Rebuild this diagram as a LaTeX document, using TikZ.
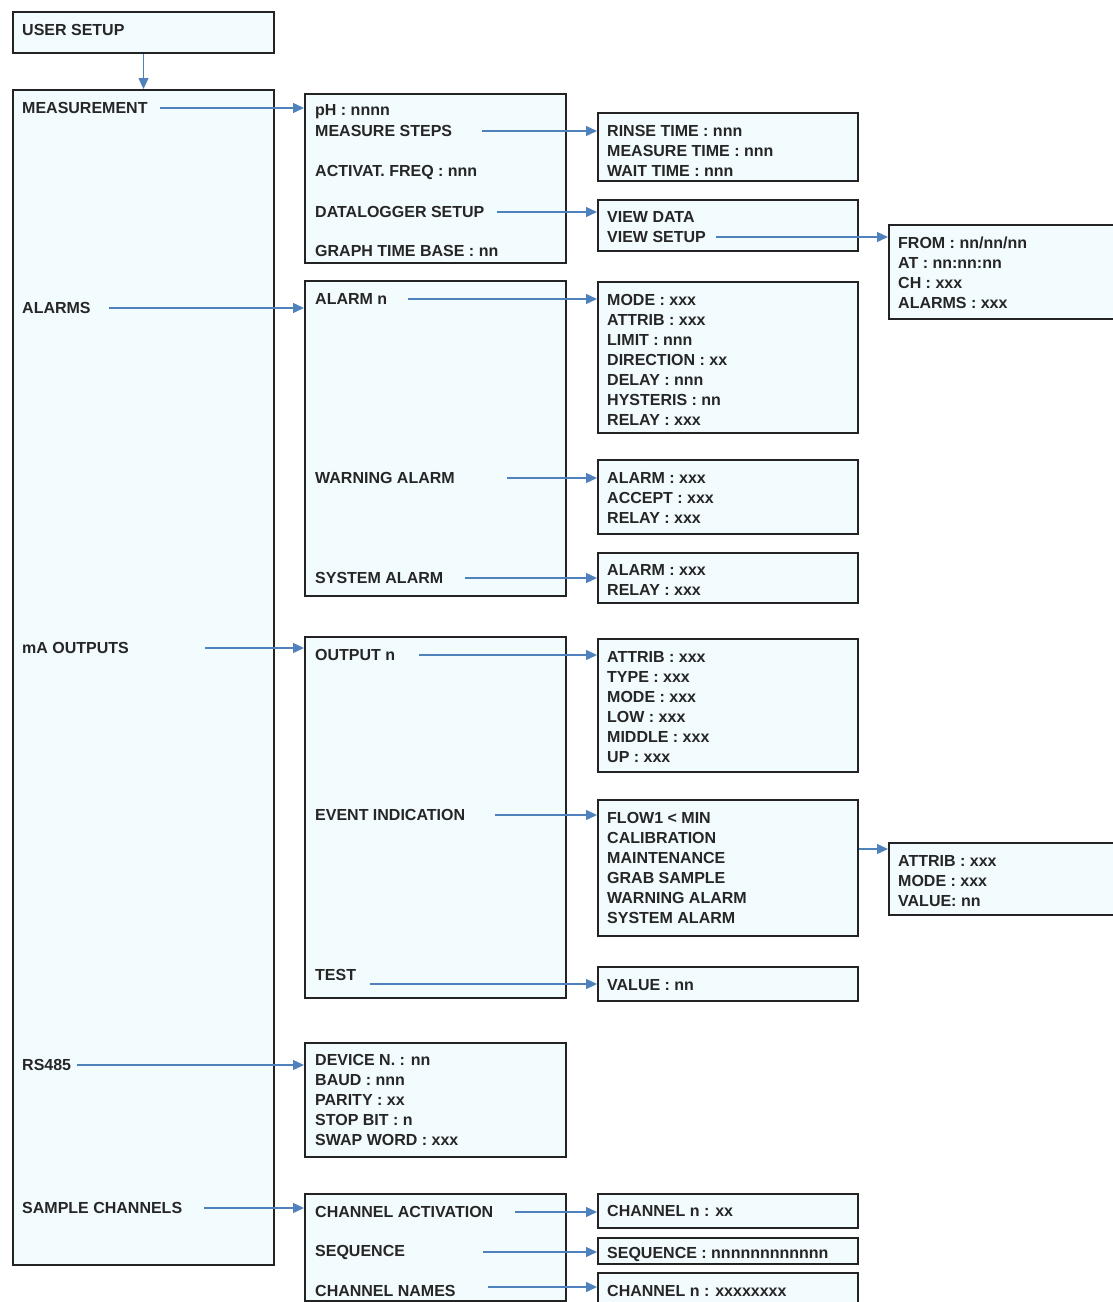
\documentclass[tikz,border=0pt]{standalone}
\usepackage{fontspec}
\setmainfont{Liberation Sans}
\usetikzlibrary{arrows.meta}
\definecolor{boxfill}{RGB}{242,251,254}
\definecolor{boxline}{RGB}{35,35,35}
\definecolor{linkblue}{RGB}{79,129,189}
\tikzset{
	panel/.style={draw=boxline, fill=boxfill, line width=2pt, anchor=north west, inner sep=0pt},
	item/.style={anchor=west, inner sep=0pt, text=black!85, font=\fontsize{16}{20}\selectfont\bfseries},
	items/.style={anchor=north west, inner sep=0pt, align=left, text=black!85, font=\fontsize{16}{20}\selectfont\bfseries},
	link/.style={draw=linkblue, line width=1.4pt, -{Triangle[length=11pt,width=10pt]}}
}

\begin{document}
\begin{tikzpicture}[x=1pt,y=-1pt]
			%%%%% START %%%%%
			\useasboundingbox (0,0) rectangle (1113,1302);
			
			% boxes
			\node[panel, minimum width=261pt, minimum height=41pt] (user) at (12,11) {};
			\node[panel, minimum width=261pt, minimum height=1175pt] (menu) at (12,89) {};
			
			\node[panel, minimum width=261pt, minimum height=169pt] (meas) at (304,93) {};
			\node[panel, minimum width=261pt, minimum height=315pt] (alarm) at (304,280) {};
			\node[panel, minimum width=261pt, minimum height=361pt] (output) at (304,636) {};
			\node[panel, minimum width=261pt, minimum height=114pt] (serial) at (304,1042) {};
			\node[panel, minimum width=261pt, minimum height=107pt] (chan) at (304,1193) {};
			
			\node[panel, minimum width=260pt, minimum height=68pt] (steps) at (597,112) {};
			\node[panel, minimum width=260pt, minimum height=51pt] (logger) at (597,199) {};
			\node[panel, minimum width=260pt, minimum height=151pt] (alarmn) at (597,281) {};
			\node[panel, minimum width=260pt, minimum height=74pt] (warning) at (597,459) {};
			\node[panel, minimum width=260pt, minimum height=50pt] (system) at (597,552) {};
			\node[panel, minimum width=260pt, minimum height=133pt] (outputn) at (597,638) {};
			\node[panel, minimum width=260pt, minimum height=136pt] (event) at (597,799) {};
			\node[panel, minimum width=260pt, minimum height=34pt] (test) at (597,966) {};
			\node[panel, minimum width=260pt, minimum height=34pt] (chact) at (597,1193) {};
			\node[panel, minimum width=260pt, minimum height=26pt] (seq) at (597,1237) {};
			\node[panel, minimum width=260pt, minimum height=32pt] (chname) at (597,1272) {};
			
			\node[panel, minimum width=230pt, minimum height=94pt] (viewset) at (888,224) {};
			\node[panel, minimum width=230pt, minimum height=72pt] (eventset) at (888,842) {};
			
			% first column
			\node[item] (l-user) at (22,30) {USER SETUP};
			\node[item] (l-meas) at (22,108) {MEASUREMENT};
			\node[item] (l-alarms) at (22,308) {ALARMS};
			\node[item] (l-maout) at (22,648) {mA OUTPUTS};
			\node[item] (l-rs) at (22,1065) {RS485};
			\node[item] (l-samp) at (22,1208) {SAMPLE CHANNELS};
			
			% second column
			\node[item] (l-ph) at (315,112) {pH : nnnn};
			\node[item] (l-steps) at (315,131) {MEASURE STEPS};
			\node[item] (l-freq) at (315,172) {ACTIVAT. FREQ : nnn};
			\node[item] (l-logger) at (315,212) {DATALOGGER SETUP};
			\node[item] (l-base) at (315,251) {GRAPH TIME BASE : nn};
			\node[item] (l-alarmn) at (315,299) {ALARM n};
			\node[item] (l-warning) at (315,478) {WARNING ALARM};
			\node[item] (l-system) at (315,578) {SYSTEM ALARM};
			\node[item] (l-outputn) at (315,655) {OUTPUT n};
			\node[item] (l-event) at (315,815) {EVENT INDICATION};
			\node[item] (l-test) at (315,975) {TEST};
			\node[items] (l-serial) at (315,1054) {DEVICE N. : nn\\BAUD : nnn\\PARITY : xx\\STOP BIT : n\\SWAP WORD : xxx};
			\node[item] (l-chact) at (315,1212) {CHANNEL ACTIVATION};
			\node[item] (l-seq) at (315,1252) {SEQUENCE};
			\node[item] (l-chname) at (315,1291) {CHANNEL NAMES};
			
			% third column
			\node[items] (l-times) at (607,125) {RINSE TIME : nnn\\MEASURE TIME : nnn\\WAIT TIME : nnn};
			\node[item] (l-viewdata) at (607,217) {VIEW DATA};
			\node[item] (l-viewset) at (607,237) {VIEW SETUP};
			\node[items] (l-alarmset) at (607,294) {MODE : xxx\\ATTRIB : xxx\\LIMIT : nnn\\DIRECTION : xx\\DELAY : nnn\\HYSTERIS : nn\\RELAY : xxx};
			\node[items] (l-warnset) at (607,472) {ALARM : xxx\\ACCEPT : xxx\\RELAY : xxx};
			\node[items] (l-sysset) at (607,564) {ALARM : xxx\\RELAY : xxx};
			\node[items] (l-outset) at (607,651) {ATTRIB : xxx\\TYPE : xxx\\MODE : xxx\\LOW : xxx\\MIDDLE : xxx\\UP : xxx};
			\node[items] (l-events) at (607,812) {FLOW1 < MIN\\CALIBRATION\\MAINTENANCE\\GRAB SAMPLE\\WARNING ALARM\\SYSTEM ALARM};
			\node[item] (l-value) at (607,985) {VALUE : nn};
			\node[item] (l-chn) at (607,1211) {CHANNEL n : xx};
			\node[item] (l-seqset) at (607,1254) {SEQUENCE : nnnnnnnnnnnn};
			\node[item] (l-chnames) at (607,1291) {CHANNEL n : xxxxxxxx};
			
			% fourth column
			\node[items] (l-from) at (898,237) {FROM : nn/nn/nn\\AT : nn:nn:nn\\CH : xxx\\ALARMS : xxx};
			\node[items] (l-evset) at (898,855) {ATTRIB : xxx\\MODE : xxx\\VALUE: nn};
			
			% arrows
			\draw[link] (user) -- (menu);
			\draw[link] ([xshift=12pt]l-meas.east) -- (l-meas.east -| meas.west);
			\draw[link] ([xshift=18pt]l-alarms.east) -- (l-alarms.east -| alarm.west);
			\draw[link] ([xshift=76pt]l-maout.east) -- (l-maout.east -| output.west);
			\draw[link] ([xshift=6pt]l-rs.east) -- (l-rs.east -| serial.west);
			\draw[link] ([xshift=22pt]l-samp.east) -- (l-samp.east -| chan.west);
			
			\draw[link] ([xshift=30pt]l-steps.east) -- (l-steps.east -| steps.west);
			\draw[link] ([xshift=12pt]l-logger.east) -- (l-logger.east -| logger.west);
			\draw[link] ([xshift=21pt]l-alarmn.east) -- (l-alarmn.east -| alarmn.west);
			\draw[link] ([xshift=52pt]l-warning.east) -- (l-warning.east -| warning.west);
			\draw[link] ([xshift=22pt]l-system.east) -- (l-system.east -| system.west);
			\draw[link] ([xshift=24pt]l-outputn.east) -- (l-outputn.east -| outputn.west);
			\draw[link] ([xshift=30pt]l-event.east) -- (l-event.east -| event.west);
			\coordinate (testarr) at ([yshift=-9pt]l-test.east);
			\draw[link] ([xshift=14pt]testarr) -- (testarr -| test.west);
			\draw[link] ([xshift=22pt]l-chact.east) -- (l-chact.east -| chact.west);
			\draw[link] ([xshift=78pt]l-seq.east) -- (l-seq.east -| seq.west);
			\coordinate (namearr) at ([yshift=4pt]l-chname.east);
			\draw[link] ([xshift=32pt]namearr) -- (namearr -| chname.west);
			
			\draw[link] ([xshift=10pt]l-viewset.east) -- (l-viewset.east -| viewset.west);
			\coordinate (evarr) at ([yshift=-7pt]eventset.north west);
			\draw[link] (evarr -| event.east) -- (evarr);
			
			%%%%% END %%%%%
\end{tikzpicture}
\end{document}
